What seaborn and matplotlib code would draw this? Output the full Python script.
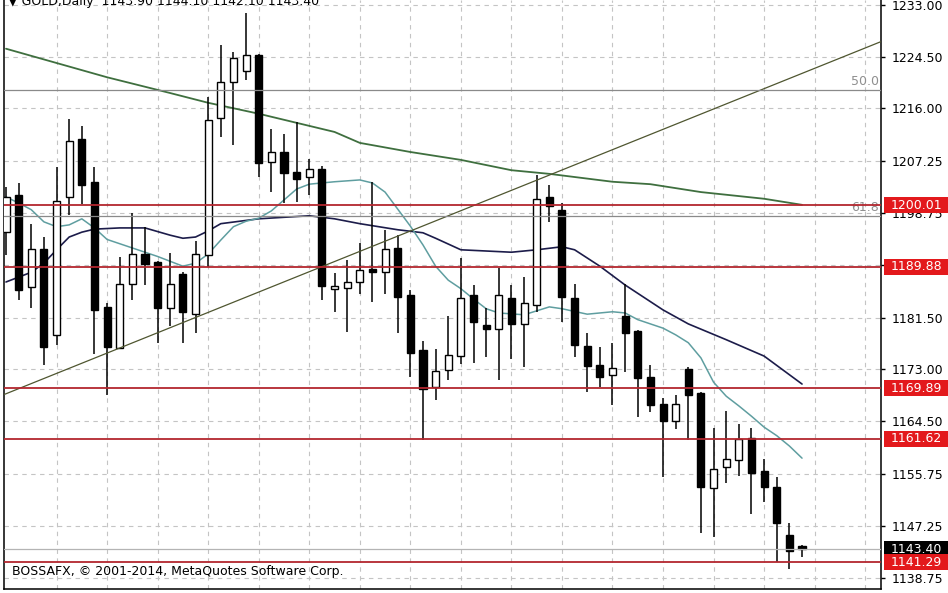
import numpy as np
import matplotlib
matplotlib.use("Agg")
import matplotlib.pyplot as plt
import matplotlib.transforms as mtransforms
from matplotlib.patches import Rectangle
import seaborn as sns

# ---------------- data (GOLD, Daily) ----------------
opens = [1195.6, 1201.7, 1186.6, 1192.8, 1178.7, 1201.4, 1210.9, 1203.9, 1183.3, 1176.5,
         1187.1, 1192.0, 1190.7, 1183.1, 1188.7, 1182.1, 1191.8, 1214.4, 1220.3, 1222.1,
         1224.8, 1207.2, 1208.8, 1205.5, 1204.7, 1206.0, 1186.3, 1186.4, 1187.4, 1189.5,
         1189.1, 1193.0, 1185.3, 1176.2, 1170.1, 1172.9, 1175.2, 1185.3, 1180.3, 1179.7,
         1184.8, 1180.5, 1183.6, 1201.4, 1199.3, 1184.8, 1176.9, 1173.7, 1172.1, 1181.8,
         1179.3, 1171.8, 1167.3, 1164.5, 1173.1, 1169.1, 1153.5, 1157.0, 1158.1, 1161.7,
         1156.3, 1153.7, 1145.8, 1143.9]
highs = [1203.0, 1203.7, 1197.0, 1194.8, 1206.3, 1214.2, 1213.1, 1206.3, 1183.9, 1191.5,
         1198.8, 1196.5, 1190.9, 1192.2, 1189.1, 1194.2, 1217.9, 1226.4, 1225.3, 1231.7,
         1225.0, 1212.6, 1211.8, 1213.7, 1207.7, 1206.5, 1188.9, 1191.0, 1193.8, 1203.9,
         1196.0, 1195.1, 1186.1, 1177.7, 1176.4, 1181.8, 1191.4, 1186.9, 1183.1, 1189.7,
         1186.9, 1188.2, 1205.0, 1203.4, 1200.4, 1187.1, 1179.0, 1176.7, 1177.4, 1187.1,
         1179.5, 1173.7, 1168.3, 1168.8, 1173.4, 1169.3, 1163.4, 1166.2, 1164.0, 1163.4,
         1158.3, 1155.3, 1147.7, 1144.1]
lows = [1191.8, 1184.4, 1183.1, 1173.7, 1177.0, 1198.4, 1200.2, 1175.6, 1168.8, 1176.3,
        1184.4, 1186.9, 1177.4, 1180.2, 1177.4, 1179.0, 1189.9, 1211.3, 1210.0, 1220.7,
        1204.7, 1202.2, 1200.4, 1200.6, 1201.7, 1184.4, 1182.5, 1179.2, 1185.4, 1184.1,
        1185.4, 1179.0, 1171.8, 1161.4, 1168.0, 1171.3, 1173.9, 1174.1, 1175.1, 1171.3,
        1174.7, 1173.4, 1182.5, 1197.3, 1180.8, 1175.1, 1169.3, 1170.1, 1167.2, 1172.6,
        1165.2, 1166.0, 1155.3, 1163.2, 1161.4, 1146.1, 1145.4, 1154.3, 1155.5, 1149.2,
        1151.2, 1141.3, 1140.2, 1142.1]
closes = [1201.4, 1186.1, 1192.8, 1176.7, 1200.7, 1210.6, 1203.4, 1182.8, 1176.7, 1187.1,
          1192.0, 1190.4, 1183.1, 1187.1, 1182.5, 1192.0, 1214.1, 1220.3, 1224.3, 1224.8,
          1207.0, 1208.8, 1205.3, 1204.4, 1206.0, 1186.7, 1186.8, 1187.4, 1189.4, 1189.0,
          1192.8, 1184.9, 1175.7, 1169.8, 1172.8, 1175.4, 1184.8, 1180.8, 1179.7, 1185.3,
          1180.5, 1183.9, 1201.1, 1199.9, 1184.9, 1177.0, 1173.6, 1171.8, 1173.2, 1179.0,
          1171.6, 1167.2, 1164.5, 1167.3, 1168.8, 1153.7, 1156.6, 1158.3, 1161.6, 1156.0,
          1153.7, 1147.7, 1143.1, 1143.4]

# moving averages (bar index, price)
ma_long_idx = [0, 8, 13, 16, 20, 23, 26, 28, 32, 36, 40, 43, 48, 51, 55, 60, 63]
ma_long_val = [1225.8, 1221.1, 1218.5, 1216.9, 1215.1, 1213.6, 1212.1, 1210.3, 1208.8,
               1207.5, 1205.8, 1205.2, 1203.9, 1203.5, 1202.2, 1201.1, 1200.1]

ma_mid_idx = [0, 2, 3, 4, 5, 6, 7, 9, 11, 13, 14, 15, 16, 17, 20, 24, 26, 28, 31, 33, 34,
              36, 40, 42, 44, 45, 47, 49, 52, 54, 57, 60, 63]
ma_mid_val = [1187.4, 1189.0, 1190.5, 1192.7, 1194.8, 1195.6, 1196.1, 1196.3, 1196.3,
              1195.1, 1194.6, 1194.8, 1195.8, 1197.0, 1197.8, 1198.3, 1197.8, 1197.0,
              1196.0, 1195.5, 1194.6, 1192.7, 1192.3, 1192.7, 1193.2, 1192.7, 1190.0,
              1186.9, 1182.8, 1180.5, 1177.9, 1175.2, 1170.6]

ma_fast_idx = [0, 1, 2, 3, 4, 5, 6, 7, 8, 10, 12, 14, 15, 16, 17, 18, 19, 20, 21, 22, 23,
               24, 26, 28, 29, 30, 31, 32, 33, 34, 35, 36, 37, 38, 39, 41, 43, 44, 46, 48,
               49, 50, 52, 53, 54, 55, 56, 57, 58, 59, 60, 61, 62, 63]
ma_fast_val = [1201.4, 1200.4, 1199.3, 1197.3, 1196.5, 1196.8, 1197.8, 1196.3, 1194.4,
               1193.0, 1191.6, 1190.0, 1190.5, 1192.0, 1194.3, 1196.5, 1197.4, 1197.9,
               1199.1, 1200.9, 1202.7, 1203.5, 1203.9, 1204.2, 1203.7, 1202.2, 1199.4,
               1196.6, 1193.5, 1190.0, 1187.7, 1186.3, 1184.6, 1183.0, 1182.3, 1182.0,
               1183.3, 1183.0, 1182.1, 1182.5, 1182.3, 1181.2, 1179.8, 1178.7, 1177.4,
               1174.9, 1170.9, 1168.6, 1167.0, 1165.3, 1163.5, 1162.1, 1160.4, 1158.4]

trend_idx = [0, 69]
trend_val = [1169.0, 1226.76]

fib_levels = [1219.0, 1198.26]
fib_labels = ["50.0", "61.8"]

level_prices = [1200.01, 1189.88, 1169.89, 1161.62, 1141.29]
level_labels = ["1200.01", "1189.88", "1169.89", "1161.62", "1141.29"]
bid_price = 1143.40
bid_label = "1143.40"

ytick_vals = [1233.00, 1224.50, 1216.00, 1207.25, 1198.75, 1190.25, 1181.50,
              1173.00, 1164.50, 1155.75, 1147.25, 1138.75]
ytick_labels = ["1233.00", "1224.50", "1216.00", "1207.25", "1198.75", "", "1181.50",
                "1173.00", "1164.50", "1155.75", "1147.25", "1138.75"]

header_text = "\u25BC GOLD,Daily  1143.90 1144.10 1142.10 1143.40"
copyright_text = "BOSSAFX, \u00A9 2001-2014, MetaQuotes Software Corp."

# ---------------- drawing ----------------
sns.set_style("white")
plt.rcParams["font.family"] = ["DejaVu Sans"]

W, H = 948, 593
fig = plt.figure(figsize=(W / 100, H / 100), dpi=100)
fig.patch.set_facecolor("white")
ax = fig.add_axes([4 / W, 4 / H, 877 / W, 589 / H])
ax.set_facecolor("white")

ax.set_xlim(-0.158, 69.25)
ax.set_ylim(1136.86, 1233.82)

grid_col = "#c4c4c4"
for yv in ytick_vals:
    ax.axhline(yv, color=grid_col, lw=0.8, ls=(0, (4, 4)), zorder=1)
for xv in range(4, 70, 4):
    ax.axvline(xv, color=grid_col, lw=0.8, ls=(0, (4, 4)), zorder=1)

# moving averages (behind candles)
sns.lineplot(x=ma_long_idx, y=ma_long_val, ax=ax, color="#3f6f3f", lw=1.3,
             estimator=None, sort=False, legend=False, zorder=2)
sns.lineplot(x=ma_mid_idx, y=ma_mid_val, ax=ax, color="#1c1c4a", lw=1.2,
             estimator=None, sort=False, legend=False, zorder=2)
sns.lineplot(x=ma_fast_idx, y=ma_fast_val, ax=ax, color="#5f9ea0", lw=1.1,
             estimator=None, sort=False, legend=False, zorder=2)

# candles
xs = np.arange(len(opens))
o = np.array(opens); c = np.array(closes)
ax.vlines(xs, lows, highs, color="black", lw=1.1, zorder=3)
bottoms = np.minimum(o, c)
heights = np.maximum(np.abs(c - o), 0.35)
fills = ["white" if cc >= oo else "black" for oo, cc in zip(o, c)]
ax.bar(xs, heights, bottom=bottoms, width=0.56, color=fills, edgecolor="black",
       linewidth=1.0, zorder=4)

# trend line
ax.axline((trend_idx[0], trend_val[0]), (trend_idx[1], trend_val[1]),
          color="#4f5630", lw=0.9, zorder=5)

trans = mtransforms.blended_transform_factory(ax.transAxes, ax.transData)

# fibo levels
for lv, lb in zip(fib_levels, fib_labels):
    ax.axhline(lv, color="#8a8a8a", lw=0.9, zorder=5)
    ax.annotate(lb, xy=(1.0, lv), xycoords=trans, xytext=(-1.5, 1.2),
                textcoords="offset points", ha="right", va="bottom",
                color="#8f8f8f", fontsize=9, zorder=6)

# bid line
ax.axhline(bid_price, color="#b4b4b4", lw=0.9, zorder=5)

# red horizontal levels
for lv in level_prices:
    ax.axhline(lv, color="#b3262e", lw=1.3, zorder=6)

# axis styling
for s in ["top"]:
    ax.spines[s].set_visible(False)
for s in ["left", "right", "bottom"]:
    ax.spines[s].set_color("black")
    ax.spines[s].set_linewidth(1.1)

ax.yaxis.tick_right()
ax.set_yticks(ytick_vals)
ax.set_yticklabels(ytick_labels)
ax.tick_params(axis="y", length=3, width=1, pad=4.5, labelsize=9, colors="black", direction="out")
ax.set_xticks(np.arange(0, 70, 8))
ax.set_xticklabels([])
ax.tick_params(axis="x", length=3, width=1, direction="out", colors="black")
ax.set_xlabel(""); ax.set_ylabel("")

# price boxes on the right
box_h = 2.63
lab_x = (891 - 4) / 877
for lv, lb in zip(level_prices + [bid_price], level_labels + [bid_label]):
    fc = "black" if lb == bid_label else "#e3191c"
    z = 10 if lb == bid_label else 11
    ax.add_patch(Rectangle((1.0035, lv - box_h / 2), 0.09, box_h, transform=trans,
                           facecolor=fc, edgecolor="none", clip_on=False, zorder=z))
    ax.text(lab_x, lv, lb, transform=trans, ha="left", va="center", color="white",
            fontsize=9, clip_on=False, zorder=z + 0.5)

# texts
ax.text((12 - 4) / 877, (589 - 572) / 589, copyright_text, transform=ax.transAxes,
        ha="left", va="center", fontsize=9, color="black", zorder=12)
fig.text(8 / W, 1 - 5 / H, header_text, ha="left", va="baseline", fontsize=9, color="black")

fig.savefig("out.png", dpi=100, facecolor="white")
